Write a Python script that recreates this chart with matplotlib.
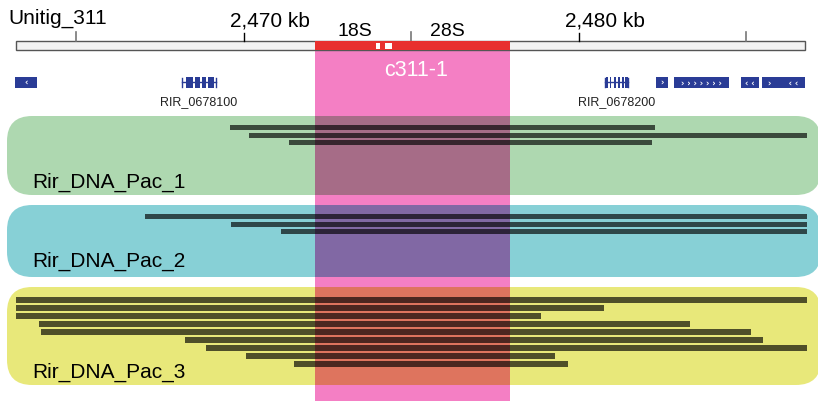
import matplotlib.pyplot as plt
from matplotlib.patches import FancyBboxPatch, Rectangle
from matplotlib.colors import to_rgb

# px per kb along the ruler (10 kb = 335 px)
PXKB = 33.5

contig_name = "Unitig_311"
contig_start, contig_end = 2463.19, 2486.75
tick_kb = [2465, 2470, 2475, 2480, 2485]
tick_labels = {2470: "2,470 kb", 2480: "2,480 kb"}

rrna_start, rrna_end = 2472.12, 2477.94
rrna_gaps = [(2473.94, 2474.06), (2474.21, 2474.42)]
rrna_labels = ["18S", "28S"]
rrna_label_kb = [2473.31, 2476.06]
cluster_name = "c311-1"

# genes: (start, end, strand arrows text)
gene_blocks = [(2463.16, 2463.82, "‹"), (2482.30, 2482.66, "›"),
               (2482.84, 2484.48, "› › › › › › ›"), (2484.84, 2485.37, "‹ ‹"),
               (2485.46, 2486.75, "›      ‹ ‹")]
gene1_name, gene1_span = "RIR_0678100", (2468.15, 2469.16)
gene1_exons = [(2468.27, 2468.48), (2468.54, 2468.69), (2468.75, 2468.87), (2468.93, 2469.09)]
gene2_name, gene2_span = "RIR_0678200", (2480.78, 2481.46)
gene2_exons = [(2480.80, 2480.86), (2480.92, 2480.97), (2481.03, 2481.09),
               (2481.15, 2481.21), (2481.27, 2481.33), (2481.38, 2481.46)]

libraries = ["Rir_DNA_Pac_1", "Rir_DNA_Pac_2", "Rir_DNA_Pac_3"]
lib_colors = ["#AED8B0", "#87D0D6", "#E8E87A"]
pac1_start = [2469.58, 2470.15, 2471.34]
pac1_end = [2482.27, 2486.81, 2482.18]
pac2_start = [2467.04, 2469.61, 2471.10]
pac2_end = [2486.81, 2486.81, 2486.81]
pac3_start = [2463.19, 2463.19, 2463.19, 2463.88, 2463.94, 2468.24, 2468.87, 2470.06, 2471.49]
pac3_end = [2486.81, 2480.75, 2478.87, 2483.31, 2485.13, 2485.49, 2486.81, 2479.28, 2479.67]
reads = [(pac1_start, pac1_end), (pac2_start, pac2_end), (pac3_start, pac3_end)]

# layout (y in pixels from top)
panel_top = [117, 206, 288]
panel_bot = [196, 278, 386]
read_y0 = [128.7, 217.7, 300.7]
read_step = [7.5, 7.3, 8.0]
read_h = [5.0, 5.0, 6.0]
label_y = [182, 261, 372]

PINK = "#F47FC4"
NAVY = "#2A3C96"
RED = "#E8302E"


def multiply(c1, c2):
    return tuple(a * b for a, b in zip(to_rgb(c1), to_rgb(c2)))


def px2kb(px):
    return 2470 + (px - 244) / PXKB


fig = plt.figure(figsize=(8.18, 4.02), dpi=100)
ax = fig.add_axes([0, 0, 1, 1])
ax.set_xlim(px2kb(0), px2kb(818))
ax.set_ylim(402, 0)
ax.axis("off")

font = "Liberation Sans"

# ruler
ax.text(px2kb(8), 18, contig_name, fontsize=15, family=font, va="center", ha="left")
ax.add_patch(Rectangle((contig_start, 42), contig_end - contig_start, 8.5,
                       facecolor="#F2F2F2", edgecolor="#555555", lw=1, zorder=2))
ax.add_patch(Rectangle((rrna_start, 42), rrna_end - rrna_start, 8.5,
                       facecolor=RED, edgecolor="none", zorder=3))
for g0, g1 in rrna_gaps:
    ax.add_patch(Rectangle((g0, 43.5), g1 - g0, 6, facecolor="white", edgecolor="none", zorder=4))
for t in tick_kb:
    if t in tick_labels:
        ax.plot([t, t], [34, 42], color="black", lw=1)
        ax.text(t - 14 / PXKB, 21, tick_labels[t], fontsize=15, family=font, va="center", ha="left")
    else:
        ax.plot([t, t], [33, 42], color="#777777", lw=1.2)
for lab, x in zip(rrna_labels, rrna_label_kb):
    ax.text(x, 31, lab, fontsize=14, family=font, va="center", ha="center")

# pink rRNA column
ax.add_patch(Rectangle((rrna_start, 50.5), rrna_end - rrna_start, 352,
                       facecolor=PINK, edgecolor="none", zorder=1))
ax.text((rrna_start + rrna_end) / 2 + 0.12, 71, cluster_name, fontsize=15.5, family=font,
        color="white", va="center", ha="center", zorder=6)

# genes
gy, gh = 83, 11
for s, e, arrows in gene_blocks:
    ax.add_patch(Rectangle((s, gy - gh / 2), e - s, gh, facecolor=NAVY, edgecolor="none"))
    ax.text((s + e) / 2, gy, arrows, fontsize=6, color="white", ha="center", va="center",
            family="DejaVu Sans", fontweight="bold")
for name, (s, e), exons in [(gene1_name, gene1_span, gene1_exons), (gene2_name, gene2_span, gene2_exons)]:
    ax.plot([s, e], [gy, gy], color=NAVY, lw=1)
    ax.plot([s, s], [gy - 4.5, gy + 4.5], color=NAVY, lw=1)
    ax.plot([e, e], [gy - 4.5, gy + 4.5], color=NAVY, lw=1)
    for x0, x1 in exons:
        ax.add_patch(Rectangle((x0, gy - gh / 2), x1 - x0, gh, facecolor=NAVY, edgecolor="none"))
    ax.text((s + e) / 2, 102, name, fontsize=9, family=font, ha="center", va="center",
            color="#222222")

# library panels
px0, px1 = px2kb(7), px2kb(821)
for i, lib in enumerate(libraries):
    top, bot = panel_top[i], panel_bot[i]
    ax.add_patch(FancyBboxPatch((px0, top), px1 - px0, bot - top,
                                boxstyle="round,pad=0,rounding_size=0.75",
                                mutation_aspect=PXKB, facecolor=lib_colors[i],
                                edgecolor="none", zorder=2))
    ax.add_patch(Rectangle((rrna_start, top), rrna_end - rrna_start, bot - top,
                           facecolor=multiply(lib_colors[i], PINK), edgecolor="none", zorder=3))
    starts, ends = reads[i]
    ys = [read_y0[i] + k * read_step[i] for k in range(len(starts))]
    ax.barh(ys, [e - s for s, e in zip(starts, ends)], left=starts, height=read_h[i],
            color="black", alpha=0.66, zorder=4)
    ax.text(px2kb(32), label_y[i], lib, fontsize=15, family=font, va="center", ha="left", zorder=5)

fig.savefig("out.png", dpi=100)
